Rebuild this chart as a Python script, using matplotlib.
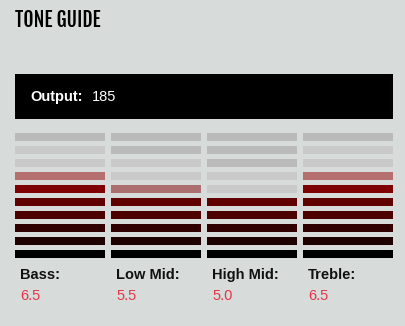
import matplotlib.pyplot as plt

bands = ["Bass", "Low Mid", "High Mid", "Treble"]
levels = [6.5, 5.5, 5.0, 6.5]
output = 185
# how many of the unlit top segments are drawn in the darker grey
dark_unlit = [1, 2, 3, 1]

full_shades = ['#000000', '#1f0000', '#300000', '#4d0000', '#600000',
               '#7f0000', '#8f0000', '#9f0000', '#af0000', '#bf0000']
half_shades = ['#8f8080', '#9a7a7a', '#9f7676', '#a47373', '#a87171',
               '#ac6f6f', '#b56f6f', '#ba7070', '#c07272', '#c87474']
grey_dark = '#bababa'
grey_light = '#c8c9c8'
bg = '#d7dbda'

n_seg = 10
col_left = 15
col_w = 90
col_gap = 6
seg_top = 133
seg_h = 8
seg_pitch = 13

fig = plt.figure(figsize=(4.05, 3.26), dpi=100, facecolor=bg)
ax = fig.add_axes([0, 0, 1, 1])
ax.set_xlim(0, 405)
ax.set_ylim(326, 0)
ax.axis('off')

ax.text(15, 27, "TONE GUIDE", family=['Fjalla One', 'DejaVu Sans'],
        fontsize=14.2, color='#000000', va='baseline')

ax.bar(15, 45, width=377.5, bottom=74, align='edge', color='black')
ax.text(30, 101, "Output:", color='white', weight='bold', fontsize=10.5,
        family=['Liberation Sans', 'DejaVu Sans'], va='baseline')
ax.text(92, 101, str(output), color='white', fontsize=10.5,
        family=['Liberation Sans', 'DejaVu Sans'], va='baseline')

for i, (name, v) in enumerate(zip(bands, levels)):
    x0 = col_left + i * (col_w + col_gap)
    n_full = int(v)
    has_half = v - n_full >= 0.5
    n_lit = n_full + (1 if has_half else 0)
    for k in range(n_seg):
        if k < n_full:
            c = full_shades[k]
        elif k < n_lit:
            c = half_shades[k]
        elif k >= n_seg - dark_unlit[i]:
            c = grey_dark
        else:
            c = grey_light
        y = seg_top + (n_seg - 1 - k) * seg_pitch
        ax.bar(x0, seg_h, width=col_w, bottom=y, align='edge', color=c)
    ax.text(x0 + 5, 279, name + ":", weight='bold', fontsize=10.5, color='#111111',
            family=['Liberation Sans', 'DejaVu Sans'], va='baseline')
    ax.text(x0 + 5, 300, f"{v:.1f}", fontsize=10.5, color='#e8334a',
            family=['Liberation Sans', 'DejaVu Sans'], va='baseline')

fig.savefig('out.png', dpi=100, facecolor=bg)
